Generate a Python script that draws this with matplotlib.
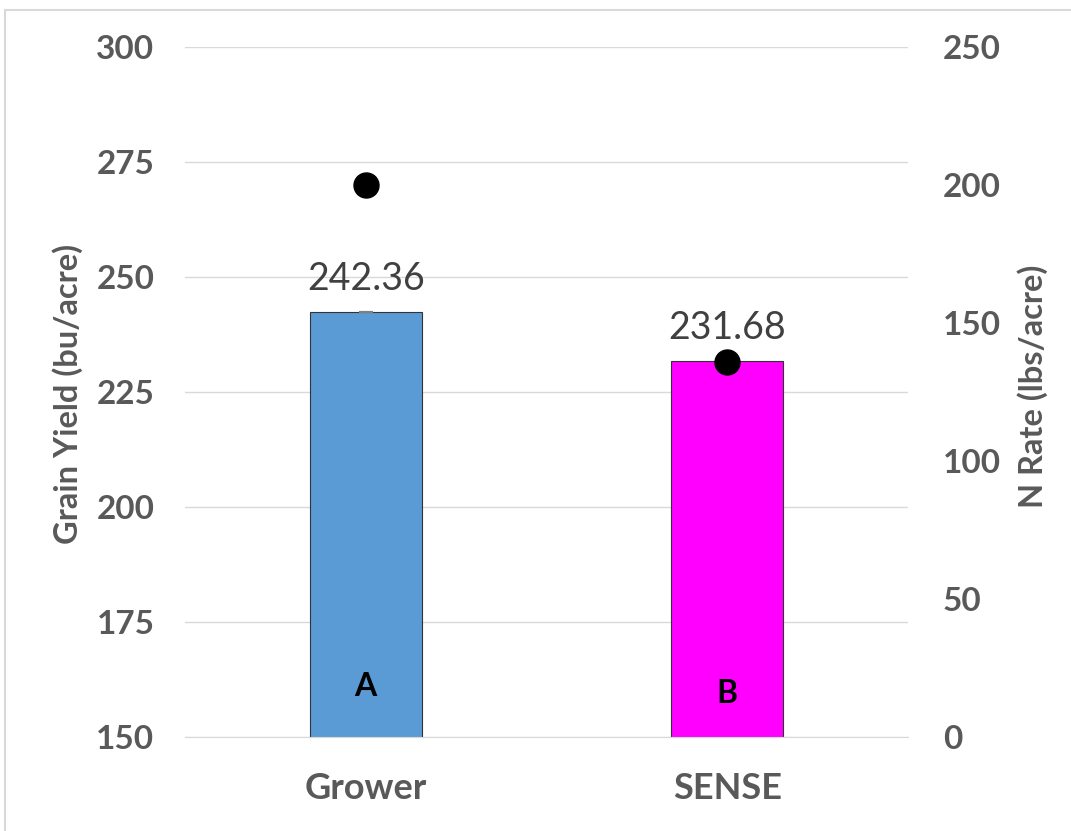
import matplotlib
matplotlib.use("Agg")
import matplotlib.pyplot as plt
from matplotlib.patches import Rectangle

# Yield by treatment with applied N rate on a secondary axis
treatments = ["Grower", "SENSE"]
grain_yield = [242.36, 231.68]
n_rate = [200, 136]
letters = ["A", "B"]
letter_y = [161, 159.5]
bar_colors = ["#5b9bd5", "#ff00ff"]

yield_ticks = [150, 175, 200, 225, 250, 275, 300]
n_ticks = [0, 50, 100, 150, 200, 250]

plt.rcParams["font.family"] = ["Lato", "DejaVu Sans"]
text_gray = "#595959"
grid_gray = "#d9d9d9"

fig = plt.figure(figsize=(10.71, 8.31), dpi=100)
fig.patches.append(Rectangle((5 / 1071, -0.05), 1.2, 1 - 10 / 831 + 0.05,
                             transform=fig.transFigure, fill=False,
                             edgecolor=grid_gray, linewidth=1.5))
ax = fig.add_axes([185 / 1071, 1 - 737 / 831, 723 / 1071, 690 / 831])
x = range(len(treatments))
ax.bar(x, grain_yield, width=0.31, color=bar_colors, edgecolor="#333333",
       linewidth=0.8, zorder=2)
ax.errorbar([0], [grain_yield[0]], yerr=[0.05], fmt="none", ecolor="#7f7f7f",
            capsize=5, elinewidth=1, capthick=1.5, zorder=3)
for i, v in enumerate(grain_yield):
    ax.annotate(f"{v:.2f}", (i, v), xytext=(0, 16), textcoords="offset points",
                ha="center", va="baseline", fontsize=27, color="#404040")
    ax.text(i, letter_y[i], letters[i], ha="center", va="center",
            fontsize=23, fontweight="bold", color="black")

ax.set_xlim(-0.5, 1.5)
ax.set_ylim(150, 300)
ax.set_yticks(yield_ticks)
ax.set_xticks(list(x))
ax.set_xticklabels(treatments)
ax.yaxis.grid(True, color=grid_gray, linewidth=1, zorder=0)
ax.set_axisbelow(True)
for side in ["top", "left", "right"]:
    ax.spines[side].set_visible(False)
ax.spines["bottom"].set_color(grid_gray)
ax.tick_params(axis="both", length=0, colors=text_gray)
ax.tick_params(axis="y", pad=22, labelsize=24)
ax.tick_params(axis="x", pad=25, labelsize=26)
for lbl in ax.get_xticklabels() + ax.get_yticklabels():
    lbl.set_fontweight("bold")
ax.set_ylabel("Grain Yield (bu/acre)", fontsize=23.5, fontweight="bold",
              color=text_gray)
ax.yaxis.set_label_coords(-0.141, 0.497)

ax2 = ax.twinx()
ax2.plot(list(x), n_rate, "o", color="black", markersize=18, zorder=4)
ax2.set_ylim(0, 250)
ax2.set_yticks(n_ticks)
for side in ["top", "left", "right", "bottom"]:
    ax2.spines[side].set_visible(False)
ax2.tick_params(axis="y", length=0, colors=text_gray, pad=25, labelsize=24)
for lbl in ax2.get_yticklabels():
    lbl.set_fontweight("bold")
ax2.set_ylabel("N Rate (lbs/acre)", fontsize=23.5, fontweight="bold",
               color=text_gray)
ax2.yaxis.set_label_coords(1.151, 0.508)

fig.savefig("out.png", dpi=100)
plt.close(fig)
